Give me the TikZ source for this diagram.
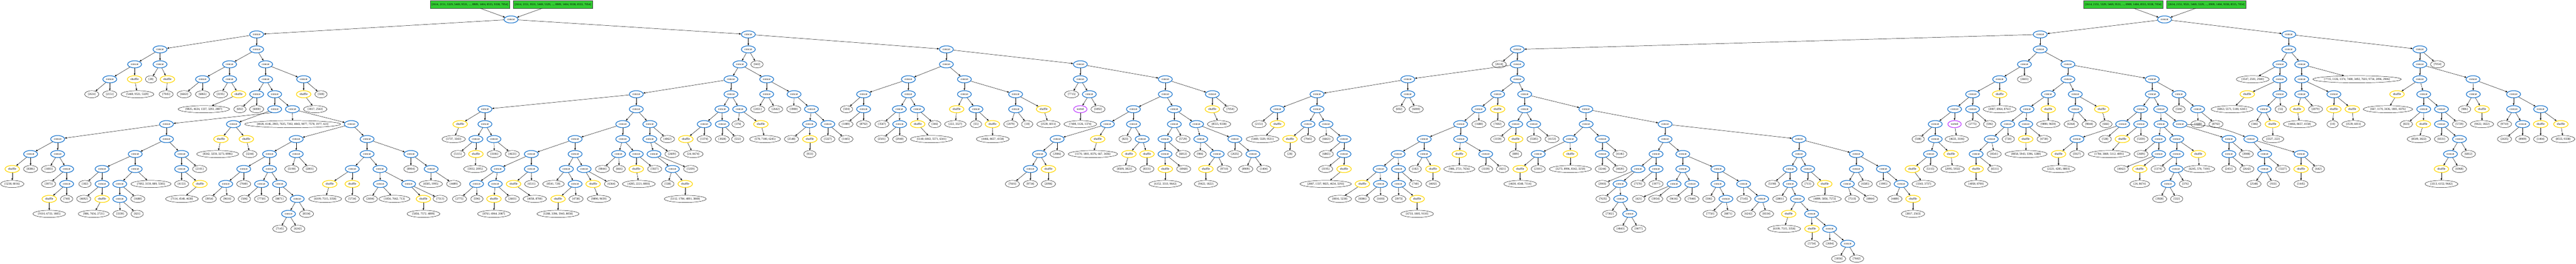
\documentclass[tikz,border=0pt]{standalone}
\usepackage{fontspec}
\setmainfont{Liberation Serif}
\usetikzlibrary{shapes.geometric,arrows.meta}
\definecolor{opblue}{RGB}{24,116,205}
\definecolor{shgold}{RGB}{255,215,0}
\definecolor{srpurple}{RGB}{191,62,255}
\definecolor{boxgreen}{RGB}{50,205,50}
\newbox\nbx
\tikzset{
  base/.style={ellipse, inner xsep=4.7pt, inner ysep=0pt, minimum height=22pt, minimum width=35pt,
    font=\fontsize{9pt}{10pt}\selectfont,
    execute at begin node={\setbox\nbx\hbox\bgroup},
    execute at end node={\egroup\makebox[0.907\width][c]{\box\nbx}}},
  opn/.style={base, draw=opblue, line width=2pt},
  shn/.style={base, draw=shgold, line width=2pt},
  srn/.style={base, draw=srpurple, line width=2pt},
  lfn/.style={base, draw=black, line width=0.75pt},
  gbx/.style={rectangle, draw=black!75, line width=0.75pt, fill=boxgreen, minimum width=246pt,
    minimum height=23pt, inner sep=0pt, font=\fontsize{9pt}{10pt}\selectfont},
  edg/.style={-{Triangle[length=6pt,width=4.6pt]}, line width=0.75pt, black},
}
\begin{document}
\begin{tikzpicture}[x=1pt,y=-46.4pt]
\useasboundingbox (0,-0.30172) rectangle (8000,17.3491);
% ===================== TREE 1 =====================
\node[gbx] (g1a) at (1459,0) {[2614, 2151, 5329, 5469, 9531, ..., 8909, 1404, 8555, 9338, 7054]};
\node[gbx] (g1b) at (1717,0) {[2614, 2151, 9531, 5469, 5329, ..., 8909, 1404, 9338, 8555, 7054]};
\node[opn] (t1) at (1587,1) {concat};
\node[opn] (A) at (797,2) {concat};
\node[opn] (R) at (2324,2) {concat};
\node[opn] (B) at (497,3) {concat};
\node[opn] (C) at (797,3) {concat};
\node[opn] (B1) at (418,4) {concat};
\node[opn] (B2) at (497,4) {concat};
\node[opn] (B11) at (341,5) {concat};
\node[shn] (B12) at (418,5) {shuffle};
\node[lfn] (l1) at (285,6) {[2614]};
\node[lfn] (l2) at (341,6) {[2151]};
\node[lfn] (l3) at (427,6) {[5469, 9531, 5329]};
\node[lfn] (l4) at (469,5) {[28]};
\node[shn] (s1) at (520,5) {shuffle};
\node[lfn] (l5) at (516,6) {[7945]};
\node[opn] (C1) at (713,4) {concat};
\node[opn] (C2) at (825,4) {concat};
\node[opn] (C11) at (629,5) {concat};
\node[opn] (C12) at (713,5) {concat};
\node[lfn] (l6) at (572,6) {[6663]};
\node[lfn] (l7) at (629,6) {[6865]};
\node[lfn] (l8) at (685,6) {[3195]};
\node[shn] (s2) at (741,6) {shuffle};
\node[lfn] (l9) at (633,7) {[9825, 4634, 1337, 3293, 2887]};
\node[opn] (C21) at (825,5) {concat};
\node[opn] (C22) at (943,5) {concat};
\node[opn] (D) at (797,6) {concat};
\node[opn] (E) at (853,6) {concat};
\node[lfn] (l10) at (745,7) {[692]};
\node[lfn] (l11) at (797,7) {[6000]};
\node[opn] (F) at (853,7) {concat};
\node[opn] (G) at (908,7) {concat};
\node[lfn] (l12) at (909,8) {[4028, 4146, 2903, 7635, 7302, 4843, 9077, 7578, 1977, 421]};
\node[opn] (K2) at (1091,8) {concat};
\node[shn] (s3) at (943,6) {shuffle};
\node[lfn] (l13) at (997,6) {[508]};
\node[lfn] (l14) at (979,7) {[3817, 2563]};
\node[opn] (H) at (517,8) {concat};
\node[opn] (I) at (725,8) {concat};
\node[opn] (H1) at (179,9) {concat};
\node[opn] (H2) at (517,9) {concat};
\node[opn] (H11) at (95,10) {concat};
\node[opn] (H12) at (179,10) {concat};
\node[shn] (s4) at (38,11) {shuffle};
\node[lfn] (l15) at (95,11) {[8386]};
\node[lfn] (l16) at (38,12) {[5238, 8016]};
\node[lfn] (l17) at (151,11) {[1693]};
\node[opn] (H121) at (207,11) {concat};
\node[lfn] (l18) at (151,12) {[3973]};
\node[opn] (H1211) at (207,12) {concat};
\node[shn] (s5) at (153,13) {shuffle};
\node[lfn] (l19) at (207,13) {[740]};
\node[lfn] (l20) at (153,14) {[9110, 6733, 1805]};
\node[opn] (H21) at (420,10) {concat};
\node[opn] (H22) at (564,10) {concat};
\node[opn] (H211) at (317,11) {concat};
\node[opn] (H212) at (420,11) {concat};
\node[lfn] (l21) at (264,12) {[182]};
\node[opn] (H2111) at (317,12) {concat};
\node[lfn] (l22) at (260,13) {[4692]};
\node[shn] (s6) at (317,13) {shuffle};
\node[lfn] (l23) at (291,14) {[986, 7656, 2721]};
\node[opn] (H2121) at (372,12) {concat};
\node[lfn] (l24) at (469,12) {[7692, 3159, 889, 5585]};
\node[opn] (H21211) at (372,13) {concat};
\node[lfn] (l25) at (428,13) {[1688]};
\node[lfn] (l26) at (373,14) {[3339]};
\node[lfn] (l27) at (426,14) {[821]};
\node[opn] (H221) at (564,11) {concat};
\node[lfn] (l28) at (620,11) {[2101]};
\node[lfn] (l29) at (564,12) {[4153]};
\node[shn] (s7) at (621,12) {shuffle};
\node[lfn] (l30) at (565,13) {[7114, 4548, 4630]};
\node[shn] (s8) at (686,9) {shuffle};
\node[shn] (s9) at (765,9) {shuffle};
\node[lfn] (l31) at (676,10) {[8342, 3259, 3273, 8996]};
\node[lfn] (l32) at (776,10) {[3244]};
\node[opn] (J) at (920,9) {concat};
\node[opn] (L) at (1140,9) {concat};
\node[opn] (J1) at (837,10) {concat};
\node[opn] (J2) at (920,10) {concat};
\node[opn] (J11) at (757,11) {concat};
\node[opn] (J12) at (837,11) {concat};
\node[opn] (J111) at (701,12) {concat};
\node[lfn] (l33) at (757,12) {[7040]};
\node[lfn] (l34) at (650,13) {[3954]};
\node[lfn] (l35) at (706,13) {[9616]};
\node[opn] (J121) at (812,12) {concat};
\node[opn] (J122) at (868,12) {concat};
\node[lfn] (l36) at (759,13) {[506]};
\node[lfn] (l37) at (812,13) {[7750]};
\node[lfn] (l38) at (868,13) {[8871]};
\node[opn] (J1221) at (923,13) {concat};
\node[opn] (J12211) at (896,14) {concat};
\node[lfn] (l39) at (952,14) {[8334]};
\node[lfn] (l40) at (869,15) {[7145]};
\node[lfn] (l41) at (925,15) {[6242]};
\node[lfn] (l42) at (906,11) {[5190]};
\node[lfn] (l43) at (962,11) {[2801]};
\node[opn] (L1) at (1140,10) {concat};
\node[opn] (L2) at (1276,10) {concat};
\node[opn] (L11) at (1094,11) {concat};
\node[opn] (L12) at (1180,11) {concat};
\node[shn] (s10) at (1024,12) {shuffle};
\node[shn] (s11) at (1094,12) {shuffle};
\node[lfn] (l44) at (1010,13) {[6109, 7515, 3358]};
\node[lfn] (l45) at (1094,13) {[5734]};
\node[opn] (L121) at (1181,12) {concat};
\node[opn] (L122) at (1269,12) {concat};
\node[lfn] (l46) at (1150,13) {[2694]};
\node[lfn] (l47) at (1225,13) {[1856, 7662, 713]};
\node[shn] (s12) at (1315,13) {shuffle};
\node[lfn] (l48) at (1367,13) {[7513]};
\node[lfn] (l49) at (1315,14) {[5856, 7572, 4899]};
\node[lfn] (l50) at (1276,11) {[8904]};
\node[opn] (L21) at (1339,11) {concat};
\node[lfn] (l51) at (1338,12) {[6585, 1995]};
\node[lfn] (l52) at (1409,12) {[4489]};
\node[opn] (R1) at (2324,3) {concat};
\node[opn] (S) at (2939,3) {concat};
\node[opn] (R11) at (2298,4) {concat};
\node[lfn] (l53) at (2351,4) {[642]};
\node[opn] (R111) at (2270,5) {concat};
\node[opn] (R112) at (2381,5) {concat};
\node[opn] (K) at (1976,6) {concat};
\node[opn] (R1112) at (2270,6) {concat};
\node[opn] (M) at (1506,7) {concat};
\node[opn] (N) at (1976,7) {concat};
\node[shn] (s13) at (1429,8) {shuffle};
\node[opn] (M1) at (1506,8) {concat};
\node[lfn] (l54) at (1409,9) {[3737, 3343]};
\node[opn] (M11) at (1478,9) {concat};
\node[opn] (M12) at (1534,9) {concat};
\node[lfn] (l55) at (1422,10) {[5115]};
\node[shn] (s14) at (1478,10) {shuffle};
\node[lfn] (l56) at (1476,11) {[5932, 2095]};
\node[lfn] (l57) at (1535,10) {[3106]};
\node[lfn] (l58) at (1591,10) {[4633]};
\node[opn] (N1) at (1934,8) {concat};
\node[opn] (N2) at (2018,8) {concat};
\node[opn] (N11) at (1786,9) {concat};
\node[opn] (N12) at (1934,9) {concat};
\node[opn] (N111) at (1650,10) {concat};
\node[opn] (N112) at (1786,10) {concat};
\node[opn] (N1111) at (1546,11) {concat};
\node[opn] (N1112) at (1650,11) {concat};
\node[opn] (Na) at (1480,12) {concat};
\node[opn] (Nb) at (1538,12) {concat};
\node[lfn] (l59) at (1427,13) {[2775]};
\node[lfn] (l60) at (1481,13) {[596]};
\node[shn] (s15) at (1534,13) {shuffle};
\node[lfn] (l61) at (1591,13) {[2603]};
\node[lfn] (l62) at (1534,14) {[8761, 6964, 2087]};
\node[shn] (s16) at (1595,12) {shuffle};
\node[lfn] (l63) at (1651,12) {[6511]};
\node[lfn] (l64) at (1661,13) {[4058, 8700]};
\node[opn] (Nc) at (1759,11) {concat};
\node[opn] (Nd) at (1814,11) {concat};
\node[lfn] (l65) at (1719,12) {[8541, 720]};
\node[opn] (Ne) at (1786,12) {concat};
\node[shn] (s17) at (1733,13) {shuffle};
\node[lfn] (l66) at (1789,13) {[4738]};
\node[lfn] (l67) at (1733,14) {[1288, 3396, 5943, 8058]};
\node[shn] (s18) at (1842,12) {shuffle};
\node[lfn] (l68) at (1899,12) {[6364]};
\node[lfn] (l69) at (1860,13) {[9890, 9659]};
\node[opn] (Nf) at (1921,10) {concat};
\node[opn] (Ng) at (1976,10) {concat};
\node[lfn] (l70) at (1871,11) {[9844]};
\node[lfn] (l71) at (1923,11) {[666]};
\node[shn] (s19) at (1976,11) {shuffle};
\node[lfn] (l72) at (2033,11) {[5927]};
\node[lfn] (l73) at (1984,12) {[4285, 2221, 8803]};
\node[opn] (N21) at (2018,9) {concat};
\node[lfn] (l74) at (2073,9) {[4062]};
\node[opn] (N211) at (2031,10) {concat};
\node[lfn] (l75) at (2087,10) {[2609]};
\node[opn] (N2111) at (2088,11) {concat};
\node[lfn] (l76) at (2145,11) {[5359]};
\node[lfn] (l77) at (2074,12) {[538]};
\node[shn] (s20) at (2128,12) {shuffle};
\node[lfn] (l78) at (2128,13) {[5112, 1784, 4891, 3869]};
\node[opn] (T) at (2242,7) {concat};
\node[opn] (U) at (2297,7) {concat};
\node[opn] (T1) at (2187,8) {concat};
\node[opn] (T2) at (2243,8) {concat};
\node[shn] (s21) at (2130,9) {shuffle};
\node[lfn] (l79) at (2187,9) {[1374]};
\node[lfn] (l80) at (2153,10) {[24, 8674]};
\node[lfn] (l81) at (2243,9) {[3928]};
\node[lfn] (l82) at (2291,9) {[532]};
\node[lfn] (l83) at (2292,8) {[376]};
\node[shn] (s22) at (2363,8) {shuffle};
\node[lfn] (l84) at (2376,9) {[578, 7100, 6245]};
\node[opn] (V1) at (2381,6) {concat};
\node[opn] (V2) at (2466,6) {concat};
\node[lfn] (l85) at (2353,7) {[2451]};
\node[lfn] (l86) at (2409,7) {[2642]};
\node[lfn] (l87) at (2465,7) {[3908]};
\node[opn] (V21) at (2520,7) {concat};
\node[opn] (V211) at (2514,8) {concat};
\node[opn] (V212) at (2571,8) {concat};
\node[lfn] (l88) at (2458,9) {[2548]};
\node[shn] (s23) at (2515,9) {shuffle};
\node[lfn] (l89) at (2515,10) {[933]};
\node[lfn] (l90) at (2571,9) {[5327]};
\node[lfn] (l91) at (2627,9) {[1445]};
\node[opn] (S1) at (2939,4) {concat};
\node[opn] (S2) at (3355,4) {concat};
\node[opn] (S11) at (2821,5) {concat};
\node[opn] (S12) at (2995,5) {concat};
\node[opn] (S111) at (2682,6) {concat};
\node[opn] (S112) at (2821,6) {concat};
\node[lfn] (l92) at (2629,7) {[504]};
\node[opn] (S1112) at (2682,7) {concat};
\node[lfn] (l93) at (2627,8) {[1089]};
\node[lfn] (l94) at (2682,8) {[8792]};
\node[opn] (S1121) at (2793,7) {concat};
\node[opn] (S1122) at (2849,7) {concat};
\node[lfn] (l95) at (2739,8) {[3547]};
\node[opn] (S11212) at (2794,8) {concat};
\node[lfn] (l96) at (2738,9) {[2501]};
\node[lfn] (l97) at (2794,9) {[2940]};
\node[shn] (s24) at (2850,8) {shuffle};
\node[lfn] (l98) at (2903,8) {[346]};
\node[lfn] (l99) at (2893,9) {[5140, 6063, 5571, 6341]};
\node[opn] (S121) at (2995,6) {concat};
\node[opn] (S122) at (3154,6) {concat};
\node[shn] (s25) at (2971,7) {shuffle};
\node[opn] (S1212) at (3031,7) {concat};
\node[lfn] (l100) at (2967,8) {[222, 3327]};
\node[lfn] (l101) at (3031,8) {[55]};
\node[shn] (s26) at (3082,8) {shuffle};
\node[lfn] (l102) at (3083,9) {[4466, 8657, 4158]};
\node[opn] (S1221) at (3154,7) {concat};
\node[shn] (s27) at (3241,7) {shuffle};
\node[lfn] (l103) at (3139,8) {[2079]};
\node[lfn] (l104) at (3190,8) {[10]};
\node[lfn] (l105) at (3256,8) {[3539, 6011]};
\node[opn] (S21) at (3355,5) {concat};
\node[opn] (S22) at (3619,5) {concat};
\node[lfn] (l106) at (3328,6) {[7715]};
\node[opn] (S212) at (3383,6) {concat};
\node[srn] (o1) at (3355,7) {sorted};
\node[lfn] (l107) at (3410,7) {[3492]};
\node[lfn] (l108) at (3355,8) {[7408, 1126, 1374]};
\node[opn] (S221) at (3619,6) {concat};
\node[opn] (S222) at (3765,6) {concat};
\node[shn] (s28) at (3765,7) {shuffle};
\node[lfn] (l109) at (3821,7) {[7054]};
\node[lfn] (l110) at (3786,8) {[8555, 9338]};
\node[opn] (W) at (3520,7) {concat};
\node[opn] (X) at (3647,7) {concat};
\node[opn] (W1) at (3439,8) {concat};
\node[opn] (W2) at (3520,8) {concat};
\node[opn] (W11) at (3283,9) {concat};
\node[shn] (s29) at (3409,9) {shuffle};
\node[lfn] (l111) at (3394,10) {[1170, 1801, 8376, 667, 3436]};
\node[opn] (W111) at (3228,10) {concat};
\node[lfn] (l112) at (3283,10) {[2906]};
\node[opn] (W1111) at (3200,11) {concat};
\node[shn] (s30) at (3256,11) {shuffle};
\node[lfn] (l113) at (3144,12) {[7601]};
\node[lfn] (l114) at (3200,12) {[9734]};
\node[lfn] (l115) at (3256,12) {[2096]};
\node[lfn] (l116) at (3494,9) {[823]};
\node[opn] (W22) at (3547,9) {concat};
\node[shn] (s31) at (3506,10) {shuffle};
\node[shn] (s32) at (3562,10) {shuffle};
\node[lfn] (l117) at (3492,11) {[8509, 3822]};
\node[lfn] (l118) at (3562,11) {[8331]};
\node[opn] (X1) at (3647,8) {concat};
\node[opn] (X2) at (3716,8) {concat};
\node[opn] (X11) at (3618,9) {concat};
\node[lfn] (l119) at (3674,9) {[5729]};
\node[opn] (X111) at (3618,10) {concat};
\node[lfn] (l120) at (3674,10) {[6812]};
\node[shn] (s33) at (3619,11) {shuffle};
\node[lfn] (l121) at (3676,11) {[6968]};
\node[lfn] (l122) at (3619,12) {[6152, 3313, 9642]};
\node[opn] (X21) at (3729,9) {concat};
\node[opn] (X22) at (3835,9) {concat};
\node[lfn] (l123) at (3727,10) {[986]};
\node[opn] (X212) at (3780,10) {concat};
\node[shn] (s34) at (3745,11) {shuffle};
\node[lfn] (l124) at (3802,11) {[9710]};
\node[lfn] (l125) at (3745,12) {[9422, 1822]};
\node[lfn] (l126) at (3835,10) {[2635]};
\node[opn] (X222) at (3891,10) {concat};
\node[lfn] (l127) at (3869,11) {[8909]};
\node[lfn] (l128) at (3925,11) {[1404]};
% ===================== TREE 2 =====================
\node[gbx] (g2a) at (6594,0) {[2614, 2151, 5329, 5469, 9531, ..., 8909, 1404, 8555, 9338, 7054]};
\node[gbx] (g2b) at (6852,0) {[2614, 2151, 9531, 5469, 5329, ..., 8909, 1404, 9338, 8555, 7054]};
\node[opn] (t2) at (6722,1) {concat};
\node[opn] (BA) at (6336,2) {concat};
\node[opn] (CA) at (7108,2) {concat};
\node[opn] (P) at (4712,3) {concat};
\node[opn] (BB) at (6336,3) {concat};
\node[lfn] (m1) at (4656,4) {[2614]};
\node[opn] (P1) at (4712,4) {concat};
\node[opn] (Q) at (4372,5) {concat};
\node[opn] (P2) at (4712,5) {concat};
\node[opn] (Q1) at (4090,6) {concat};
\node[opn] (Q2) at (4372,6) {concat};
\node[lfn] (m2) at (4345,7) {[692]};
\node[lfn] (m3) at (4398,7) {[6000]};
\node[opn] (Q11) at (3967,7) {concat};
\node[opn] (Q12) at (4090,7) {concat};
\node[lfn] (m4) at (3910,8) {[2151]};
\node[shn] (u1) at (3967,8) {shuffle};
\node[lfn] (m5) at (3921,9) {[5469, 5329, 9531]};
\node[opn] (Q121) at (4062,8) {concat};
\node[opn] (Q122) at (4118,8) {concat};
\node[shn] (u2) at (4006,9) {shuffle};
\node[lfn] (m6) at (4062,9) {[7945]};
\node[lfn] (m7) at (4006,10) {[28]};
\node[lfn] (m8) at (4119,9) {[6663]};
\node[opn] (Q1222) at (4174,9) {concat};
\node[lfn] (m9) at (4119,10) {[6865]};
\node[opn] (Q12222) at (4174,10) {concat};
\node[lfn] (m10) at (4117,11) {[3195]};
\node[shn] (u3) at (4174,11) {shuffle};
\node[lfn] (m11) at (4117,12) {[2887, 1337, 9825, 4634, 3293]};
\node[opn] (P21) at (4651,6) {concat};
\node[opn] (P22) at (4735,6) {concat};
\node[opn] (P211) at (4592,7) {concat};
\node[shn] (u4) at (4651,7) {shuffle};
\node[lfn] (m12) at (4651,8) {[7692]};
\node[opn] (P2111) at (4536,8) {concat};
\node[lfn] (m13) at (4593,8) {[1688]};
\node[opn] (Y) at (4423,9) {concat};
\node[opn] (Z) at (4536,9) {concat};
\node[opn] (Y1) at (4342,10) {concat};
\node[opn] (Y2) at (4423,10) {concat};
\node[opn] (Y11) at (4286,11) {concat};
\node[opn] (Y12) at (4343,11) {concat};
\node[shn] (u5) at (4231,12) {shuffle};
\node[opn] (Y112) at (4287,12) {concat};
\node[lfn] (m14) at (4161,13) {[8016, 5238]};
\node[lfn] (m15) at (4231,13) {[8386]};
\node[lfn] (m16) at (4288,13) {[1693]};
\node[opn] (Y121) at (4343,12) {concat};
\node[lfn] (m17) at (4396,12) {[740]};
\node[lfn] (m18) at (4344,13) {[3973]};
\node[shn] (u6) at (4401,13) {shuffle};
\node[lfn] (m19) at (4401,14) {[6733, 1805, 9110]};
\node[lfn] (m20) at (4395,11) {[182]};
\node[shn] (u7) at (4450,11) {shuffle};
\node[lfn] (m21) at (4450,12) {[4692]};
\node[shn] (u8) at (4532,10) {shuffle};
\node[opn] (Z2) at (4614,10) {concat};
\node[lfn] (m22) at (4532,11) {[986, 2721, 7656]};
\node[lfn] (m23) at (4614,11) {[3339]};
\node[lfn] (m24) at (4666,11) {[821]};
\node[opn] (P221) at (4735,7) {concat};
\node[opn] (P222) at (4925,7) {concat};
\node[opn] (P2211) at (4707,8) {concat};
\node[opn] (P2212) at (4763,8) {concat};
\node[lfn] (m25) at (4651,9) {[3159]};
\node[shn] (u9) at (4707,9) {shuffle};
\node[lfn] (m26) at (4707,10) {[889]};
\node[lfn] (m27) at (4764,9) {[5585]};
\node[lfn] (m28) at (4820,9) {[4153]};
\node[opn] (P2221) at (4926,8) {concat};
\node[opn] (AA) at (5171,8) {concat};
\node[opn] (P22211) at (4876,9) {concat};
\node[opn] (P22212) at (4976,9) {concat};
\node[opn] (P222111) at (4777,10) {concat};
\node[shn] (u10) at (4877,10) {shuffle};
\node[shn] (u11) at (4721,11) {shuffle};
\node[lfn] (m29) at (4777,11) {[2101]};
\node[lfn] (m30) at (4721,12) {[4630, 4548, 7114]};
\node[lfn] (m31) at (4877,11) {[3273, 8996, 8342, 3259]};
\node[opn] (P222121) at (4976,10) {concat};
\node[lfn] (m32) at (5031,10) {[4146]};
\node[lfn] (m33) at (4976,11) {[3244]};
\node[lfn] (m34) at (5031,11) {[4028]};
\node[opn] (AA1) at (5171,9) {concat};
\node[opn] (AB) at (5587,9) {concat};
\node[opn] (AA11) at (5143,10) {concat};
\node[opn] (AA12) at (5226,10) {concat};
\node[opn] (AA111) at (5087,11) {concat};
\node[opn] (AA112) at (5143,11) {concat};
\node[lfn] (m35) at (4976,12) {[2903]};
\node[opn] (AA1112) at (5031,12) {concat};
\node[lfn] (m36) at (4978,13) {[7635]};
\node[opn] (AA11122) at (5033,13) {concat};
\node[lfn] (m37) at (4999,14) {[7302]};
\node[opn] (AA111222) at (5061,14) {concat};
\node[lfn] (m38) at (5033,15) {[4843]};
\node[lfn] (m39) at (5089,15) {[9077]};
\node[lfn] (m40) at (5087,12) {[7578]};
\node[lfn] (m41) at (5143,12) {[1977]};
\node[opn] (AA121) at (5226,11) {concat};
\node[opn] (AA122) at (5335,11) {concat};
\node[opn] (AA1211) at (5199,12) {concat};
\node[opn] (AA1212) at (5254,12) {concat};
\node[lfn] (m42) at (5089,13) {[421]};
\node[lfn] (m43) at (5142,13) {[3954]};
\node[lfn] (m44) at (5198,13) {[9616]};
\node[lfn] (m45) at (5254,13) {[7040]};
\node[opn] (AA1221) at (5335,12) {concat};
\node[opn] (AA1222) at (5415,12) {concat};
\node[lfn] (m46) at (5307,13) {[506]};
\node[opn] (AA12212) at (5360,13) {concat};
\node[lfn] (m47) at (5311,14) {[7750]};
\node[lfn] (m48) at (5367,14) {[8871]};
\node[lfn] (m49) at (5416,13) {[7145]};
\node[opn] (AA12222) at (5471,13) {concat};
\node[lfn] (m50) at (5430,14) {[6242]};
\node[lfn] (m51) at (5486,14) {[8334]};
\node[opn] (AB1) at (5587,10) {concat};
\node[opn] (AB2) at (5765,10) {concat};
\node[opn] (AB11) at (5559,11) {concat};
\node[opn] (AB12) at (5614,11) {concat};
\node[lfn] (m52) at (5504,12) {[5190]};
\node[opn] (AB112) at (5559,12) {concat};
\node[lfn] (m53) at (5527,13) {[2801]};
\node[opn] (AB1122) at (5582,13) {concat};
\node[shn] (u12) at (5555,14) {shuffle};
\node[opn] (AB11222) at (5626,14) {concat};
\node[lfn] (m54) at (5541,15) {[6109, 7515, 3358]};
\node[shn] (u13) at (5627,15) {shuffle};
\node[opn] (AB112222) at (5682,15) {concat};
\node[lfn] (m55) at (5627,16) {[5734]};
\node[lfn] (m56) at (5683,16) {[2694]};
\node[opn] (AB1122222) at (5738,16) {concat};
\node[lfn] (m57) at (5710,17) {[1856]};
\node[lfn] (m58) at (5766,17) {[7662]};
\node[lfn] (m59) at (5614,12) {[713]};
\node[shn] (u14) at (5667,12) {shuffle};
\node[lfn] (m60) at (5667,13) {[4899, 5856, 7572]};
\node[opn] (AB21) at (5765,11) {concat};
\node[opn] (AB22) at (5849,11) {concat};
\node[opn] (AB211) at (5737,12) {concat};
\node[lfn] (m61) at (5793,12) {[6585]};
\node[lfn] (m62) at (5752,13) {[7513]};
\node[lfn] (m63) at (5809,13) {[8904]};
\node[lfn] (m64) at (5849,12) {[1995]};
\node[opn] (AB222) at (5904,12) {concat};
\node[lfn] (m65) at (5885,13) {[4489]};
\node[shn] (u15) at (5941,13) {shuffle};
\node[lfn] (m66) at (5941,14) {[3817, 2563]};
\node[opn] (BC) at (6287,4) {concat};
\node[opn] (BD) at (6422,4) {concat};
\node[opn] (BC1) at (6210,5) {concat};
\node[lfn] (m67) at (6287,5) {[2603]};
\node[opn] (BC11) at (6126,6) {concat};
\node[shn] (u16) at (6210,6) {shuffle};
\node[lfn] (m68) at (6210,7) {[2087, 6964, 8761]};
\node[opn] (BC111) at (6070,7) {concat};
\node[opn] (BC112) at (6126,7) {concat};
\node[lfn] (m69) at (6126,8) {[2775]};
\node[lfn] (m70) at (6179,8) {[596]};
\node[opn] (BC1111) at (6010,8) {concat};
\node[srn] (o2) at (6070,8) {sorted};
\node[lfn] (m71) at (6077,9) {[4633, 3106]};
\node[lfn] (m72) at (5957,9) {[508]};
\node[opn] (BC11111) at (6010,9) {concat};
\node[opn] (BC111111) at (5995,10) {concat};
\node[shn] (u17) at (6059,10) {shuffle};
\node[lfn] (m73) at (6064,11) {[2095, 5932]};
\node[shn] (u18) at (5939,11) {shuffle};
\node[lfn] (m74) at (5995,11) {[5115]};
\node[lfn] (m75) at (5974,12) {[3343, 3737]};
\node[opn] (BE) at (6422,5) {concat};
\node[opn] (BF) at (6684,5) {concat};
\node[opn] (BE1) at (6361,6) {concat};
\node[opn] (BE2) at (6445,6) {concat};
\node[opn] (BE11) at (6295,7) {concat};
\node[shn] (u19) at (6361,7) {shuffle};
\node[lfn] (m76) at (6361,8) {[9890, 9659]};
\node[opn] (BE111) at (6235,8) {concat};
\node[opn] (BE112) at (6291,8) {concat};
\node[opn] (BE1111) at (6184,9) {concat};
\node[lfn] (m77) at (6237,9) {[720]};
\node[opn] (BE11111) at (6137,10) {concat};
\node[lfn] (m78) at (6193,10) {[8541]};
\node[shn] (u20) at (6137,11) {shuffle};
\node[lfn] (m79) at (6195,11) {[6511]};
\node[lfn] (m80) at (6137,12) {[4058, 8700]};
\node[shn] (u21) at (6291,9) {shuffle};
\node[lfn] (m81) at (6348,9) {[4738]};
\node[lfn] (m82) at (6292,10) {[8058, 5943, 3396, 1288]};
\node[opn] (BE21) at (6445,7) {concat};
\node[shn] (u22) at (6527,7) {shuffle};
\node[lfn] (m83) at (6540,8) {[666]};
\node[lfn] (m84) at (6432,8) {[6364]};
\node[lfn] (m85) at (6488,8) {[9844]};
\node[opn] (BG) at (6684,6) {concat};
\node[opn] (BH) at (6767,6) {concat};
\node[lfn] (m86) at (6767,7) {[504]};
\node[opn] (BH2) at (6825,7) {concat};
\node[lfn] (m87) at (6826,8) {[1089]};
\node[lfn] (m88) at (6882,8) {[8792]};
\node[opn] (BG1) at (6648,7) {concat};
\node[opn] (BG2) at (6710,7) {concat};
\node[opn] (BG11) at (6592,8) {concat};
\node[opn] (BG12) at (6648,8) {concat};
\node[opn] (BG111) at (6450,9) {concat};
\node[lfn] (m89) at (6538,9) {[538]};
\node[shn] (u23) at (6393,10) {shuffle};
\node[lfn] (m90) at (6450,10) {[5927]};
\node[lfn] (m91) at (6393,11) {[2221, 4285, 8803]};
\node[shn] (u24) at (6591,9) {shuffle};
\node[lfn] (m92) at (6649,9) {[5359]};
\node[lfn] (m93) at (6550,10) {[1784, 3869, 5112, 4891]};
\node[opn] (BG21) at (6711,8) {concat};
\node[opn] (BG22) at (6770,8) {concat};
\node[opn] (BG211) at (6704,9) {concat};
\node[opn] (BG212) at (6760,9) {concat};
\node[lfn] (m94) at (6649,10) {[2609]};
\node[opn] (BG2112) at (6704,10) {concat};
\node[lfn] (m95) at (6588,11) {[4062]};
\node[shn] (u25) at (6645,11) {shuffle};
\node[lfn] (m96) at (6645,12) {[24, 8674]};
\node[opn] (BG2121) at (6760,10) {concat};
\node[shn] (u26) at (6827,10) {shuffle};
\node[lfn] (m97) at (6702,11) {[1374]};
\node[opn] (BG21212) at (6758,11) {concat};
\node[opn] (BG212121) at (6733,12) {concat};
\node[lfn] (m98) at (6787,12) {[376]};
\node[lfn] (m99) at (6707,13) {[3928]};
\node[lfn] (m100) at (6760,13) {[532]};
\node[lfn] (m101) at (6830,11) {[6245, 578, 7100]};
\node[opn] (BG221) at (6922,9) {concat};
\node[opn] (BG222) at (6990,9) {concat};
\node[opn] (BG2211) at (6922,10) {concat};
\node[lfn] (m102) at (6976,10) {[3908]};
\node[lfn] (m103) at (6922,11) {[2451]};
\node[lfn] (m104) at (6978,11) {[2642]};
\node[opn] (BG2221) at (7033,10) {concat};
\node[opn] (BG2222) at (7146,10) {concat};
\node[opn] (BG22211) at (7033,11) {concat};
\node[lfn] (m105) at (7089,11) {[5327]};
\node[lfn] (m106) at (7000,12) {[2548]};
\node[lfn] (m107) at (7060,12) {[933]};
\node[shn] (u27) at (7146,11) {shuffle};
\node[lfn] (m108) at (7200,11) {[642]};
\node[lfn] (m109) at (7146,12) {[1445]};
\node[opn] (CB) at (7108,3) {concat};
\node[opn] (DA) at (7515,3) {concat};
\node[opn] (CC) at (7080,4) {concat};
\node[opn] (CD) at (7148,4) {concat};
\node[lfn] (m110) at (6996,5) {[3547, 2501, 2940]};
\node[opn] (CC2) at (7080,5) {concat};
\node[shn] (u28) at (6979,6) {shuffle};
\node[opn] (CC22) at (7080,6) {concat};
\node[lfn] (m111) at (6932,7) {[6063, 5571, 5140, 6341]};
\node[opn] (CC221) at (7031,7) {concat};
\node[lfn] (m112) at (7083,7) {[55]};
\node[lfn] (m113) at (7002,8) {[346]};
\node[shn] (u29) at (7057,8) {shuffle};
\node[lfn] (m114) at (7059,9) {[3327, 222]};
\node[opn] (CE) at (7148,5) {concat};
\node[lfn] (m115) at (7320,5) {[7715, 1126, 1374, 7408, 3492, 7601, 9734, 2096, 2906]};
\node[opn] (CE1) at (7148,6) {concat};
\node[opn] (CE2) at (7248,6) {concat};
\node[shn] (u30) at (7134,7) {shuffle};
\node[lfn] (m116) at (7191,7) {[2079]};
\node[lfn] (m117) at (7142,8) {[4466, 8657, 4158]};
\node[shn] (u31) at (7248,7) {shuffle};
\node[shn] (u32) at (7305,7) {shuffle};
\node[lfn] (m118) at (7244,8) {[10]};
\node[lfn] (m119) at (7309,8) {[3539, 6011]};
\node[opn] (DB) at (7515,4) {concat};
\node[lfn] (m120) at (7570,4) {[7054]};
\node[opn] (DC) at (7515,5) {concat};
\node[opn] (DD) at (7680,5) {concat};
\node[shn] (u33) at (7444,6) {shuffle};
\node[opn] (DC2) at (7527,6) {concat};
\node[lfn] (m121) at (7416,7) {[667, 1170, 3436, 1801, 8376]};
\node[opn] (DC21) at (7527,7) {concat};
\node[opn] (DC22) at (7582,7) {concat};
\node[lfn] (m122) at (7473,8) {[823]};
\node[shn] (u34) at (7526,8) {shuffle};
\node[lfn] (m123) at (7512,9) {[8509, 3822]};
\node[opn] (DC221) at (7582,8) {concat};
\node[lfn] (m124) at (7638,8) {[5729]};
\node[lfn] (m125) at (7582,9) {[8331]};
\node[opn] (DC2212) at (7638,9) {concat};
\node[opn] (DC22121) at (7610,10) {concat};
\node[lfn] (m126) at (7666,10) {[6812]};
\node[shn] (u35) at (7582,11) {shuffle};
\node[lfn] (m127) at (7638,11) {[6968]};
\node[lfn] (m128) at (7582,12) {[3313, 6152, 9642]};
\node[opn] (DE) at (7681,6) {concat};
\node[opn] (DF) at (7806,6) {concat};
\node[lfn] (m129) at (7654,7) {[986]};
\node[shn] (u36) at (7708,7) {shuffle};
\node[lfn] (m130) at (7708,8) {[9422, 1822]};
\node[opn] (DF1) at (7806,7) {concat};
\node[opn] (DF2) at (7890,7) {concat};
\node[lfn] (m131) at (7778,8) {[9710]};
\node[opn] (DF12) at (7834,8) {concat};
\node[lfn] (m132) at (7778,9) {[2635]};
\node[lfn] (m133) at (7834,9) {[8909]};
\node[shn] (u37) at (7890,8) {shuffle};
\node[shn] (u38) at (7953,8) {shuffle};
\node[lfn] (m134) at (7890,9) {[1404]};
\node[lfn] (m135) at (7960,9) {[8555, 9338]};
% ===================== EDGES =====================
\foreach \a/\b in {g1a/t1, g1b/t1, t1/A, t1/R,
A/B, A/C, B/B1, B/B2, B1/B11, B1/B12, B11/l1, B11/l2, B12/l3, B2/l4, B2/s1, s1/l5,
C/C1, C/C2, C1/C11, C1/C12, C11/l6, C11/l7, C12/l8, C12/s2, s2/l9,
C2/C21, C2/C22, C21/D, C21/E, D/l10, D/l11, E/F, E/G, G/l12, G/K2, C22/s3, C22/l13, s3/l14,
F/I, H/H1, H/H2, H1/H11, H1/H12, H11/s4, H11/l15, s4/l16, H12/l17, H12/H121, H121/l18, H121/H1211, H1211/s5, H1211/l19, s5/l20,
H2/H21, H2/H22, H21/H211, H21/H212, H211/l21, H211/H2111, H2111/l22, H2111/s6, s6/l23, H212/H2121, H212/l24, H2121/H21211, H2121/l25, H21211/l26, H21211/l27, H22/H221, H22/l28, H221/l29, H221/s7, s7/l30,
I/s8, I/s9, s8/l31, s9/l32,
K2/J, K2/L, J/J1, J/J2, J1/J11, J1/J12, J11/J111, J11/l33, J111/l34, J111/l35, J12/J121, J12/J122, J121/l36, J121/l37, J122/l38, J122/J1221, J1221/J12211, J1221/l39, J12211/l40, J12211/l41, J2/l42, J2/l43,
L/L1, L/L2, L1/L11, L1/L12, L11/s10, L11/s11, s10/l44, s11/l45, L12/L121, L12/L122, L121/l46, L121/l47, L122/s12, L122/l48, s12/l49, L2/l50, L2/L21, L21/l51, L21/l52,
R/R1, R/S, R1/R11, R1/l53, R11/R111, R11/R112, R111/K, R111/R1112, K/M, K/N, M/s13, M/M1, s13/l54, M1/M11, M1/M12, M11/l55, M11/s14, s14/l56, M12/l57, M12/l58,
N/N1, N/N2, N1/N11, N1/N12, N11/N111, N11/N112, N111/N1111, N111/N1112, N1111/Na, N1111/Nb, Na/l59, Na/l60, Nb/s15, Nb/l61, s15/l62, N1112/s16, N1112/l63, s16/l64, N112/Nc, N112/Nd, Nc/l65, Nc/Ne, Ne/s17, Ne/l66, s17/l67, Nd/s18, Nd/l68, s18/l69, N12/Nf, N12/Ng, Nf/l70, Nf/l71, Ng/s19, Ng/l72, s19/l73, N2/N21, N2/l74, N21/N211, N21/l75, N211/N2111, N211/l76, N2111/l77, N2111/s20, s20/l78,
R1112/T, R1112/U, T/T1, T/T2, T1/s21, T1/l79, s21/l80, T2/l81, T2/l82, U/l83, U/s22, s22/l84,
R112/V1, R112/V2, V1/l85, V1/l86, V2/l87, V2/V21, V21/V211, V21/V212, V211/l88, V211/s23, s23/l89, V212/l90, V212/l91,
S/S1, S/S2, S1/S11, S1/S12, S11/S111, S11/S112, S111/l92, S111/S1112, S1112/l93, S1112/l94, S112/S1121, S112/S1122, S1121/l95, S1121/S11212, S11212/l96, S11212/l97, S1122/s24, S1122/l98, s24/l99,
S12/S121, S12/S122, S121/s25, S121/S1212, s25/l100, S1212/l101, S1212/s26, s26/l102, S122/S1221, S122/s27, S1221/l103, S1221/l104, s27/l105,
S2/S21, S2/S22, S21/l106, S21/S212, S212/o1, S212/l107, o1/l108, S22/S221, S22/S222, S222/s28, S222/l109, s28/l110,
S221/W, S221/X, W/W1, W/W2, W1/W11, W1/s29, s29/l111, W11/W111, W11/l112, W111/W1111, W111/s30, W1111/l113, W1111/l114, s30/l115, W2/l116, W2/W22, W22/s31, W22/s32, s31/l117, s32/l118,
X/X1, X/X2, X1/X11, X1/l119, X11/X111, X11/l120, X111/s33, X111/l121, s33/l122, X2/X21, X2/X22, X21/l123, X21/X212, X212/s34, X212/l124, s34/l125, X22/l126, X22/X222, X222/l127, X222/l128}
  \draw[edg] (\a) -- (\b);
\draw[edg] (F.230) -- (H);
\foreach \a/\b in {g2a/t2, g2b/t2, t2/BA, t2/CA, BA/P, BA/BB, P/m1, P/P1, P1/Q, P1/P2, Q/Q1, Q/Q2, Q2/m2, Q2/m3, Q1/Q11, Q1/Q12, Q11/m4, Q11/u1, u1/m5, Q12/Q121, Q12/Q122, Q121/u2, Q121/m6, u2/m7, Q122/m8, Q122/Q1222, Q1222/m9, Q1222/Q12222, Q12222/m10, Q12222/u3, u3/m11,
P2/P21, P2/P22, P21/P211, P21/u4, u4/m12, P211/P2111, P211/m13, P2111/Y, P2111/Z, Y/Y1, Y/Y2, Y1/Y11, Y1/Y12, Y11/u5, Y11/Y112, u5/m14, Y112/m15, Y112/m16, Y12/Y121, Y12/m17, Y121/m18, Y121/u6, u6/m19, Y2/m20, Y2/u7, u7/m21, Z/u8, Z/Z2, u8/m22, Z2/m23, Z2/m24,
P22/P221, P22/P222, P221/P2211, P221/P2212, P2211/m25, P2211/u9, u9/m26, P2212/m27, P2212/m28, P222/P2221, P222/AA, P2221/P22211, P2221/P22212, P22211/P222111, P22211/u10, P222111/u11, P222111/m29, u11/m30, u10/m31, P22212/P222121, P22212/m32, P222121/m33, P222121/m34,
AA/AA1, AA/AB, AA1/AA11, AA1/AA12, AA11/AA111, AA11/AA112, AA111/m35, AA111/AA1112, AA1112/m36, AA1112/AA11122, AA11122/m37, AA11122/AA111222, AA111222/m38, AA111222/m39, AA112/m40, AA112/m41, AA12/AA121, AA12/AA122, AA121/AA1211, AA121/AA1212, AA1211/m42, AA1211/m43, AA1212/m44, AA1212/m45, AA122/AA1221, AA122/AA1222, AA1221/m46, AA1221/AA12212, AA12212/m47, AA12212/m48, AA1222/m49, AA1222/AA12222, AA12222/m50, AA12222/m51,
AB/AB1, AB/AB2, AB1/AB11, AB1/AB12, AB11/m52, AB11/AB112, AB112/m53, AB112/AB1122, AB1122/u12, AB1122/AB11222, u12/m54, AB11222/u13, AB11222/AB112222, u13/m55, AB112222/m56, AB112222/AB1122222, AB1122222/m57, AB1122222/m58, AB12/m59, AB12/u14, u14/m60, AB2/AB21, AB2/AB22, AB21/AB211, AB21/m61, AB211/m62, AB211/m63, AB22/m64, AB22/AB222, AB222/m65, AB222/u15, u15/m66,
BB/BC, BB/BD, BC/BC1, BC/m67, BC1/BC11, BC1/u16, u16/m68, BC11/BC111, BC11/BC112, BC112/m69, BC112/m70, BC111/BC1111, BC111/o2, o2/m71, BC1111/m72, BC1111/BC11111, BC11111/BC111111, BC11111/u17, u17/m73, BC111111/u18, BC111111/m74, u18/m75,
BD/BE, BD/BF, BE/BE1, BE/BE2, BE1/BE11, BE1/u19, u19/m76, BE11/BE111, BE11/BE112, BE111/BE1111, BE111/m77, BE1111/BE11111, BE1111/m78, BE11111/u20, BE11111/m79, u20/m80, BE112/u21, BE112/m81, u21/m82, BE2/BE21, BE2/u22, u22/m83, BE21/m84, BE21/m85,
BF/BG, BF/BH, BH/m86, BH/BH2, BH2/m87, BH2/m88, BG/BG1, BG/BG2, BG1/BG11, BG1/BG12, BG11/BG111, BG11/m89, BG111/u23, BG111/m90, u23/m91, BG12/u24, BG12/m92, u24/m93, BG2/BG21, BG2/BG22, BG21/BG211, BG21/BG212, BG211/m94, BG211/BG2112, BG2112/m95, BG2112/u25, u25/m96, BG212/BG2121, BG212/u26, BG2121/m97, BG2121/BG21212, BG21212/BG212121, BG21212/m98, BG212121/m99, BG212121/m100, u26/m101, BG22/BG221, BG221/BG2211, BG221/m102, BG2211/m103, BG2211/m104, BG222/BG2221, BG222/BG2222, BG2221/BG22211, BG2221/m105, BG22211/m106, BG22211/m107, BG2222/u27, BG2222/m108, u27/m109,
CA/CB, CA/DA, CB/CC, CB/CD, CC/m110, CC/CC2, CC2/u28, CC2/CC22, u28/m111, CC22/CC221, CC22/m112, CC221/m113, CC221/u29, u29/m114, CD/CE, CD/m115, CE/CE1, CE/CE2, CE1/u30, CE1/m116, u30/m117, CE2/u31, CE2/u32, u31/m118, u32/m119,
DA/DB, DA/m120, DB/DC, DB/DD, DC/u33, DC/DC2, u33/m121, DC2/DC21, DC2/DC22, DC21/m122, DC21/u34, u34/m123, DC22/DC221, DC22/m124, DC221/m125, DC221/DC2212, DC2212/DC22121, DC2212/m126, DC22121/u35, DC22121/m127, u35/m128, DD/DE, DD/DF, DE/m129, DE/u36, u36/m130, DF/DF1, DF/DF2, DF1/m131, DF1/DF12, DF12/m132, DF12/m133, DF2/u37, DF2/u38, u37/m134, u38/m135}
  \draw[edg] (\a) -- (\b);
\draw[edg] (BG22) to[bend left=10] (BG222);
\end{tikzpicture}
\end{document}
